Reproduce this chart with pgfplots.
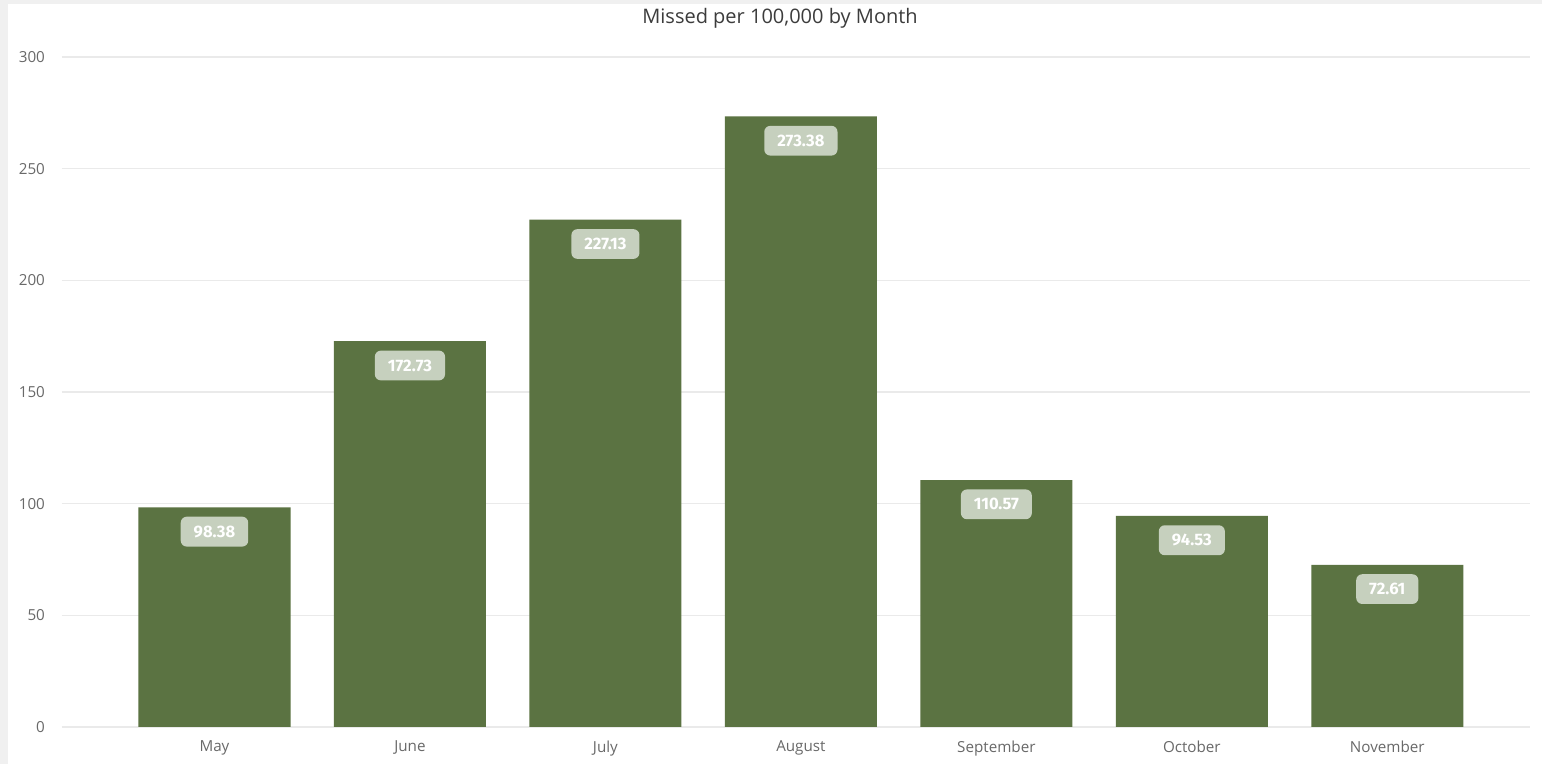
\documentclass[border=0pt]{standalone}
\usepackage{pgfplots}
\pgfplotsset{compat=1.18}
\usepackage{fontspec}
\setmainfont{Open Sans}
\newfontfamily\labelfont{Fira Sans}
\definecolor{bargreen}{RGB}{91,115,66}
\definecolor{lblfill}{RGB}{198,208,190}
\definecolor{gridgray}{RGB}{234,234,234}
\definecolor{tickgray}{RGB}{105,105,105}
\definecolor{titlegray}{RGB}{60,60,60}
\definecolor{framegray}{RGB}{240,240,240}
\begin{document}
\begin{tikzpicture}
\useasboundingbox (0,0) rectangle (771pt,382pt);
\fill[framegray] (0,0) rectangle (771pt,382pt);
\fill[white] (4pt,0) rectangle (771pt,380pt);
\begin{axis}[
  at={(31pt,18.5pt)}, anchor=south west,
  scale only axis, width=734pt, height=335pt,
  ymin=0, ymax=300, xmin=-0.78, xmax=6.73,
  ybar, bar width=0.778, bar shift=0pt,
  axis line style={draw=none},
  major tick length=0pt,
  ytick={0,50,...,300},
  xtick={0,...,6},
  xticklabels={May,June,July,August,September,October,November},
  ymajorgrids, grid style={gridgray, line width=0.7pt},
  /pgf/number format/assume math mode=true,
  tick label style={font=\fontsize{7.6}{9}\selectfont, text=tickgray},
  yticklabel style={xshift=-5pt},
  xticklabel style={yshift=-3.5pt},
  nodes near coords,
  nodes near coords style={/pgf/number format/fixed, /pgf/number format/fixed zerofill, /pgf/number format/precision=2, /pgf/number format/assume math mode=true},
  every node near coord/.append style={anchor=north, yshift=-4.5pt, fill=lblfill, rounded corners=3pt, text=white, font=\labelfont\bfseries\fontsize{8.3}{10}\selectfont, inner xsep=6.5pt, inner ysep=4.5pt},
]
\addplot[fill=bargreen, draw=none] coordinates {
  (0,98.38) (1,172.73) (2,227.13) (3,273.38) (4,110.57) (5,94.53) (6,72.61)
};
\end{axis}
\node[font=\fontsize{10}{12}\selectfont, text=titlegray, inner sep=0pt] at (390pt,373pt) {Missed per 100,000 by Month};
\end{tikzpicture}
\end{document}
